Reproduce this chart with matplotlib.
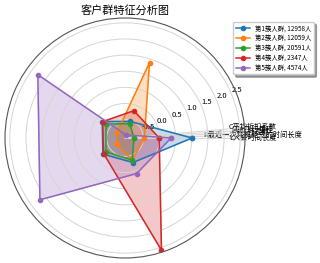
import numpy as np
import matplotlib
matplotlib.use("Agg")
import matplotlib.pyplot as plt

plt.rcParams['font.family'] = ['Noto Sans CJK SC', 'DejaVu Sans']
plt.rcParams['axes.unicode_minus'] = False

features = ['L入会时间长度', 'R最近一次乘机距今的时间长度', 'F飞行次数', 'M总飞行里程', 'C平均折扣系数']
series_names = ['第1簇人群, 12958人', '第2簇人群, 12059人', '第3簇人群, 20591人',
                '第4簇人群, 2347人', '第5簇人群, 4574人']
cluster1 = [1.01, -0.53, -0.20, -0.22, -0.27]
cluster2 = [-0.47, 1.39, -0.77, -0.75, -0.35]
cluster3 = [-0.79, -0.60, -0.34, -0.34, -0.35]
cluster4 = [-0.01, -0.18, -0.21, -0.25, 2.59]
cluster5 = [0.36, -0.97, 2.27, 2.19, 0.09]
clusters = [cluster1, cluster2, cluster3, cluster4, cluster5]
colors = ['#1f77b4', '#ff7f0e', '#2ca02c', '#d62728', '#9467bd']

N = len(features)
angles = np.linspace(0, 2 * np.pi, N, endpoint=False)
angles_c = np.concatenate([angles, [angles[0]]])

fig = plt.figure(figsize=(3.2, 2.63), dpi=100)
ax = fig.add_axes([5 / 320, 5 / 263, 240 / 320, 240 / 263], polar=True)

for vals, name, c in zip(clusters, series_names, colors):
    v = np.concatenate([vals, [vals[0]]])
    ax.plot(angles_c, v, 'o-', color=c, linewidth=1.1, markersize=3, label=name)
    ax.fill(angles_c, v, color=c, alpha=0.25)

# theta grids placed with radian values (labels crowd near 0 degrees)
ax.set_thetagrids(angles, features, fontsize=5.2)
ax.tick_params(axis='x', pad=-5)
ax.set_ylim(-1.07, 2.65)
ax.set_yticks([-0.5, 0.0, 0.5, 1.0, 1.5, 2.0, 2.5])
ax.set_yticklabels(['-0.5', '0.0', '0.5', '1.0', '1.5', '2.0', '2.5'], fontsize=5.5)
ax.grid(True, color='#d5d5d5', linewidth=0.7)
ax.spines['polar'].set_color('#555555')
ax.spines['polar'].set_linewidth(0.8)

fig.text(125 / 320, 1 - 10 / 263, '客户群特征分析图', ha='center', va='center', fontsize=8)

fig.legend(loc='upper right', bbox_to_anchor=(0.99, 0.93), fontsize=4.6,
           shadow=True, handlelength=2.2, borderpad=0.4, labelspacing=0.3, framealpha=1)

fig.savefig('out.png', dpi=100)
